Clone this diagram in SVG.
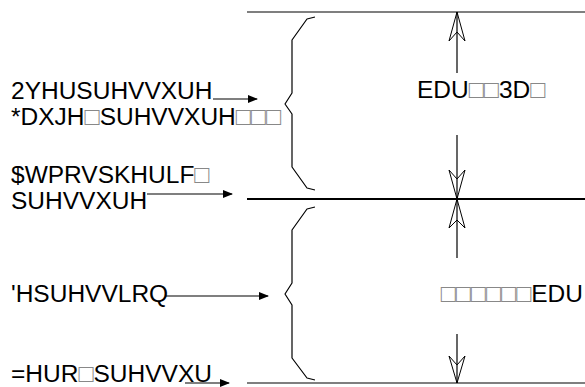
<svg xmlns="http://www.w3.org/2000/svg" width="585" height="387" viewBox="0 0 585 387">
<style>
text{font-family:"Liberation Sans",Arial,sans-serif;font-size:24.5px;fill:#000}
.b{fill:#888;font-size:25px}
.ln{stroke:#000;stroke-width:1.2;fill:none}
.br{stroke:#000;stroke-width:1.2;fill:none;stroke-linejoin:round}
.oh{stroke:#000;stroke-width:1;fill:#fff}
</style>
<defs>
<marker id="ah" markerWidth="10" markerHeight="8" refX="9" refY="4" orient="auto" markerUnits="userSpaceOnUse">
<path d="M0,0 L10,4 L0,8 Z" fill="#000"/>
</marker>
</defs>
<g id="levels">
<line class="ln" x1="247" y1="12" x2="585" y2="12"/>
<line x1="247" y1="199" x2="585" y2="199" stroke="#000" stroke-width="2.2"/>
<line class="ln" x1="247" y1="383" x2="585" y2="383"/>
</g>
<g id="brace-top"><polyline class="br" points="315,17 307,19 292,40 292,93 285,104 292,114 292,167 307,188 315,190"/></g>
<g id="brace-bottom"><polyline class="br" points="315,207 307,209 292,230 292,283 285,294 292,305 292,358 307,378 315,380"/></g>
<g id="labels">
<text x="11" y="99">2YHUSUHVVXUH</text>
<text x="11" y="125">*DXJH<tspan class="b">□</tspan>SUHVVXUH<tspan class="b">□□□</tspan></text>
<text x="11" y="183">$WPRVSKHULF<tspan class="b">□</tspan></text>
<text x="11" y="209">SUHVVXUH</text>
<text x="11" y="302">'HSUHVVLRQ</text>
<text x="11" y="382">=HUR<tspan class="b">□</tspan>SUHVVXU</text>
<text x="417" y="98">EDU<tspan class="b">□□</tspan>3D<tspan class="b">□</tspan></text>
<text x="583" y="302" text-anchor="end"><tspan class="b">□□□□□□</tspan>EDU</text>
</g>
<g id="connectors">
<line class="ln" x1="213" y1="99" x2="257" y2="99" marker-end="url(#ah)"/>
<line class="ln" x1="147" y1="194" x2="232" y2="194" marker-end="url(#ah)"/>
<line class="ln" x1="165" y1="296" x2="268" y2="296" marker-end="url(#ah)"/>
<line class="ln" x1="185" y1="383" x2="229" y2="383" marker-end="url(#ah)"/>
<line class="ln" x1="457" y1="12" x2="457" y2="73"/>
<polygon class="oh" points="457,12 449,41 457,32 465,41"/>
<line class="ln" x1="457" y1="12" x2="457" y2="32"/>
<line class="ln" x1="457" y1="135" x2="457" y2="199"/>
<polygon class="oh" points="457,199 449,170 457,179 465,170"/>
<line class="ln" x1="457" y1="179" x2="457" y2="199"/>
<line class="ln" x1="457" y1="199" x2="457" y2="258"/>
<polygon class="oh" points="457,199 449,228 457,220 465,228"/>
<line class="ln" x1="457" y1="199" x2="457" y2="220"/>
<line class="ln" x1="457" y1="334" x2="457" y2="383"/>
<polygon class="oh" points="457,383 449,356 457,365 465,356"/>
<line class="ln" x1="457" y1="365" x2="457" y2="383"/>
</g>
</svg>
